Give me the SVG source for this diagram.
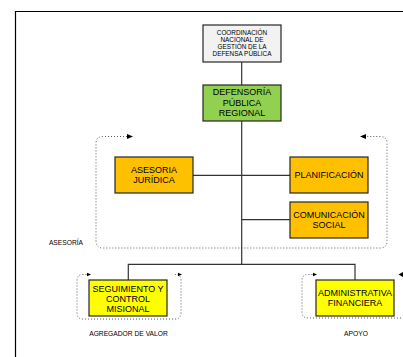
<svg xmlns="http://www.w3.org/2000/svg" width="403" height="357" viewBox="0 0 403 357">
<style>
text{font-family:"Liberation Sans",Arial,sans-serif;fill:#000;text-anchor:middle}
.box{stroke:#262626;stroke-width:1.2}
.conn{fill:none;stroke:#333;stroke-width:1.2}
.dot{fill:none;stroke:#595959;stroke-width:1;stroke-dasharray:1 2}
.t9{font-size:9px}
.t65{font-size:6.4px}
.lbl{font-size:6.7px}
</style>
<defs>
<marker id="ah" markerUnits="userSpaceOnUse" markerWidth="7" markerHeight="6" refX="0" refY="3" orient="auto-start-reverse"><path d="M0,0.5 L6,3 L0,5.5 z" fill="#000"/></marker>
<marker id="ahs" markerUnits="userSpaceOnUse" markerWidth="6" markerHeight="5" refX="0" refY="2.5" orient="auto-start-reverse"><path d="M0,0.5 L4.5,2.5 L0,4.5 z" fill="#000"/></marker>
</defs>
<path d="M15.5,357 V11.5 H403" fill="none" stroke="#000" stroke-width="1.2"/>
<g id="groups">
<path class="dot" d="M127,136.5 H103 Q96,136.5 96,143.5 V241 Q96,248 103,248 H380 Q387,248 387,241 V143.5 Q387,136.5 380,136.5 H366" marker-start="url(#ah)" marker-end="url(#ah)"/>
<path class="dot" d="M86.5,274.5 H83 Q77,274.5 77,280.5 V313 Q77,319 83,319 H175 Q181,319 181,313 V280.5 Q181,274.5 175,274.5 H177.5" marker-start="url(#ahs)" marker-end="url(#ahs)"/>
<path class="dot" d="M312.5,274.5 H308 Q302,274.5 302,280.5 V312 Q302,318 308,318 H403" marker-start="url(#ahs)"/>
<path d="M403,272 L398.5,274.5 L403,277 z" fill="#000"/>
</g>
<g id="connectors">
<path class="conn" d="M241.7,62 V264.3"/>
<path class="conn" d="M193,175.3 H290"/>
<path class="conn" d="M241.7,219.7 H290"/>
<path class="conn" d="M128.3,280 V264.3 H355 V280"/>
</g>
<g id="coordinacion">
<rect class="box" x="203" y="25" width="78" height="37" fill="#F2F2F2"/>
<text class="t65" x="242" y="34.8">COORDINACIÓN</text>
<text class="t65" x="242" y="41.8">NACIONAL DE</text>
<text class="t65" x="242" y="48.8">GESTIÓN DE LA</text>
<text class="t65" x="242" y="55.8">DEFENSA PÚBLICA</text>
</g>
<g id="defensoria">
<rect class="box" x="203" y="85" width="78" height="36" fill="#92D050"/>
<text class="t9" x="242" y="95.3">DEFENSORÍA</text>
<text class="t9" x="242" y="105.5">PÚBLICA</text>
<text class="t9" x="242" y="115.7">REGIONAL</text>
</g>
<g id="asesoria-juridica">
<rect class="box" x="115" y="157" width="78" height="36" fill="#FFC000"/>
<text class="t9" x="154" y="173.2">ASESORIA</text>
<text class="t9" x="154" y="183.4">JURÍDICA</text>
</g>
<g id="planificacion">
<rect class="box" x="290" y="157" width="78" height="36" fill="#FFC000"/>
<text class="t9" x="329" y="177.5">PLANIFICACIÓN</text>
</g>
<g id="comunicacion">
<rect class="box" x="290" y="202" width="78" height="36" fill="#FFC000"/>
<text class="t9" x="329" y="218.2">COMUNICACIÓN</text>
<text class="t9" x="329" y="228.4">SOCIAL</text>
</g>
<g id="seguimiento">
<rect class="box" x="89" y="280" width="78" height="36" fill="#FFFF00"/>
<text class="t9" x="128" y="291.5">SEGUIMIENTO Y</text>
<text class="t9" x="128" y="301.5">CONTROL</text>
<text class="t9" x="128" y="311.5">MISIONAL</text>
</g>
<g id="administrativa">
<rect class="box" x="316" y="280" width="78" height="36" fill="#FFFF00"/>
<text class="t9" x="355" y="295.9">ADMINISTRATIVA</text>
<text class="t9" x="355" y="305.9">FINANCIERA</text>
</g>
<g id="labels">
<text class="lbl" x="66" y="245">ASESORÍA</text>
<text class="lbl" x="128.5" y="336.4">AGREGADOR DE VALOR</text>
<text class="lbl" x="356" y="336.4">APOYO</text>
</g>
</svg>
